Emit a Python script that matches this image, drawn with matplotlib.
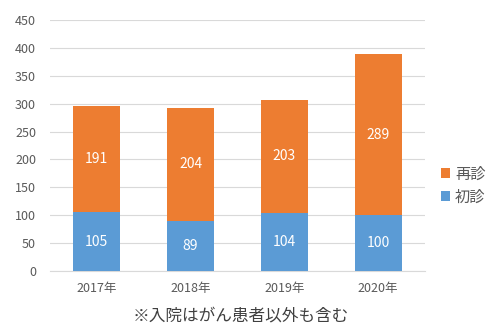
import matplotlib.pyplot as plt
import numpy as np

plt.rcParams['font.family'] = ['Noto Sans CJK JP', 'DejaVu Sans']

years = ["2017年", "2018年", "2019年", "2020年"]
first_visit = [105, 89, 104, 100]    # 初診
return_visit = [191, 204, 203, 289]  # 再診

blue = "#5B9BD5"
orange = "#ED7D31"
gray = "#595959"

fig = plt.figure(figsize=(4.97, 3.34), dpi=100)
ax = fig.add_axes([0.1006, 0.1886, 0.7544, 0.7514])

x = np.arange(len(years))
b1 = ax.bar(x, first_visit, width=0.5, color=blue, label="初診", zorder=3)
b2 = ax.bar(x, return_visit, width=0.5, bottom=first_visit, color=orange, label="再診", zorder=3)

for rect, v in zip(b1, first_visit):
    ax.text(rect.get_x() + rect.get_width() / 2, rect.get_y() + rect.get_height() / 2, str(v),
            ha="center", va="center", color="white", fontsize=10)
for rect, v in zip(b2, return_visit):
    ax.text(rect.get_x() + rect.get_width() / 2, rect.get_y() + rect.get_height() / 2, str(v),
            ha="center", va="center", color="white", fontsize=10)

ax.set_xlim(-0.5, len(years) - 0.5)
ax.set_ylim(0, 450)
ax.set_yticks(range(0, 451, 50))
ax.set_xticks(x)
ax.set_xticklabels(years)
ax.tick_params(axis="both", length=0, colors=gray, labelsize=9)
ax.tick_params(axis="x", pad=8)
ax.tick_params(axis="y", pad=10)
ax.grid(axis="y", color="#D9D9D9", linewidth=0.8, zorder=0)
for s in ["top", "right", "left"]:
    ax.spines[s].set_visible(False)
ax.spines["bottom"].set_color("#D9D9D9")

handles, labels = ax.get_legend_handles_labels()
fig.legend(handles[::-1], labels[::-1], loc="center left", bbox_to_anchor=(0.86, 0.445),
           frameon=False, fontsize=11, handlelength=0.6, handleheight=0.6,
           handletextpad=0.3, labelspacing=0.4, labelcolor=gray)

fig.text(0.485, 0.055, "※入院はがん患者以外も含む", ha="center", va="center", fontsize=12, color="#404040")

fig.savefig("out.png", dpi=100)
